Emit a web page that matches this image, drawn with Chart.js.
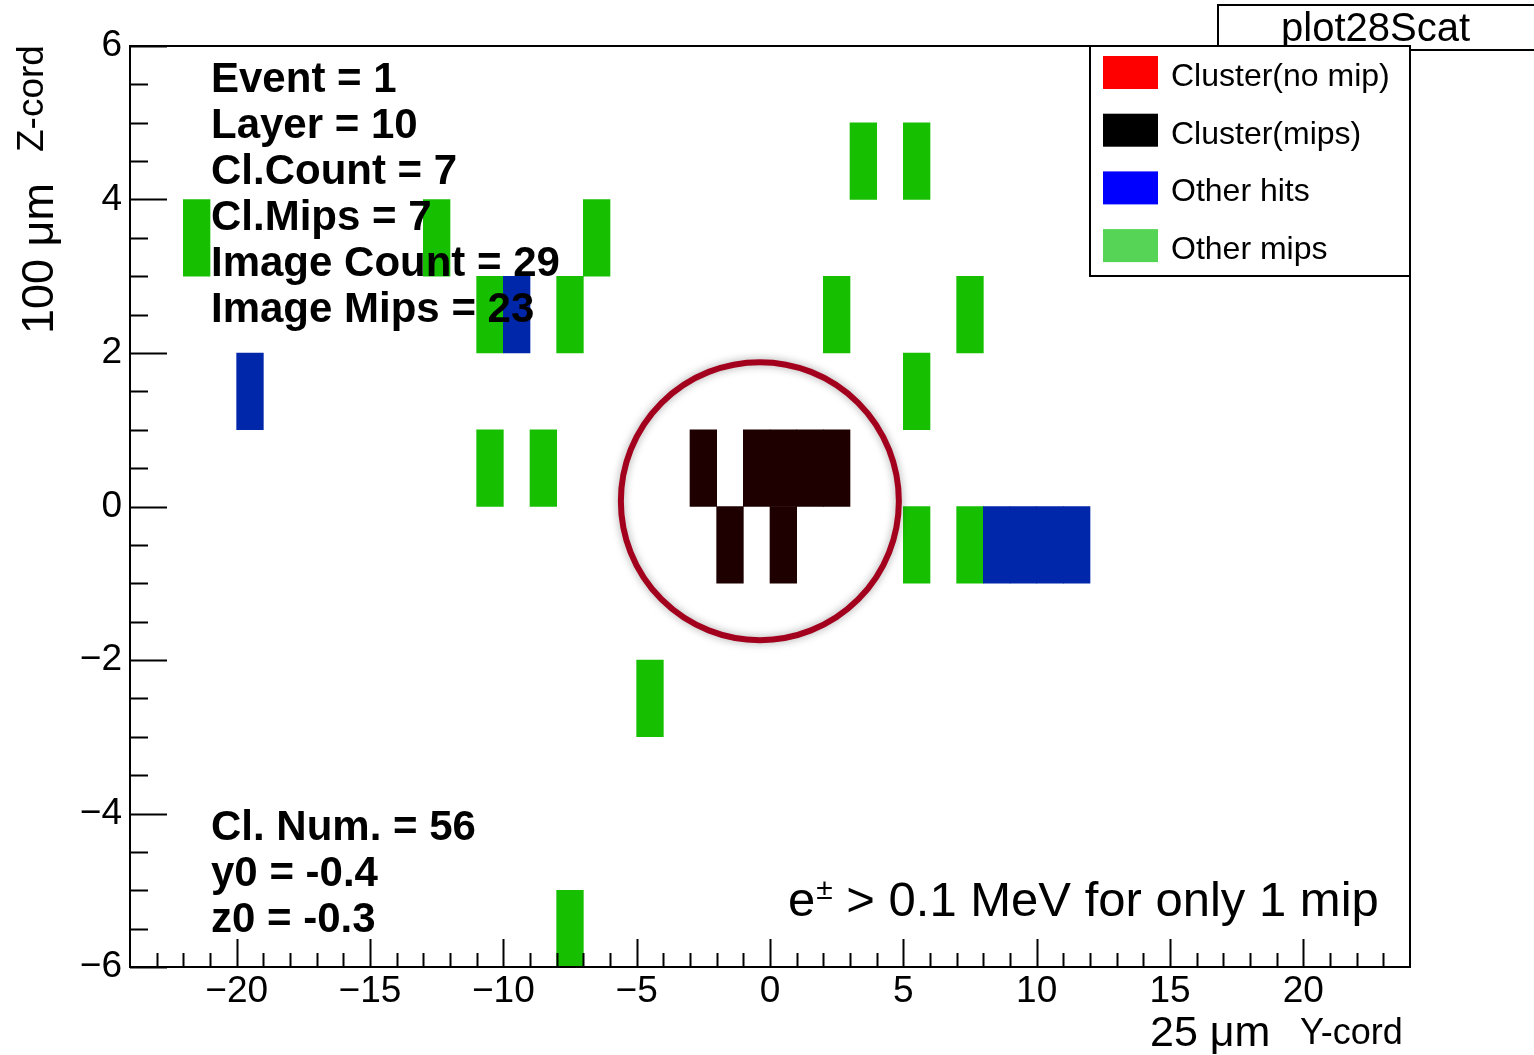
<!DOCTYPE html>
<html>
<head>
<meta charset="utf-8">
<script src="https://cdn.jsdelivr.net/npm/chart.js@4.4.0/dist/chart.umd.min.js"></script>
<style>
  html, body { margin: 0; padding: 0; background: #fff; }
  #wrap { width: 1534px; height: 1055px; }
</style>
</head>
<body>
<div id="wrap"><canvas id="chart" width="1534" height="1055"></canvas></div>
<script>
// lower-left corner of every pixel cell: Y-cord (x axis), Z-cord (y axis)
const mipY = [-22, -13, -7, 3, 5, -11, -8, 2, 7, 5, -11, -9, 5, 7, -5, -8];
const mipZ = [3, 3, 3, 4, 4, 2, 2, 2, 2, 1, 0, 0, -1, -1, -3, -6];
const hitY = [-10, -20, 8, 9, 10, 11];
const hitZ = [2, 1, -1, -1, -1, -1];
const clusterY = [-3, -1, 0, 1, 2, -2, 0];
const clusterZ = [0, 0, 0, 0, 0, -1, -1];
const noMipY = [];
const noMipZ = [];

// circle drawn round the cluster (centre in axis units, radius in px)
const ring = [{x: -0.38, y: 0.07, r: 139}];

const seriesNames = ['Cluster(no mip)', 'Cluster(mips)', 'Other hits', 'Other mips'];
const cellColors = ['#ff0000', '#1e0000', '#0026aa', '#16c000'];
const legendColors = ['#ff0000', '#000000', '#0000ff', '#55d455'];

const xTicks = [-20, -15, -10, -5, 0, 5, 10, 15, 20];
const yTicks = [-6, -4, -2, 0, 2, 4, 6];

const infoTop = ['Event = 1', 'Layer = 10', 'Cl.Count = 7', 'Cl.Mips = 7', 'Image Count = 29', 'Image Mips = 23'];
const infoBottom = ['Cl. Num. = 56', 'y0 = -0.4', 'z0 = -0.3'];
const plotName = 'plot28Scat';

const FONT = "'Liberation Sans', Arial, Helvetica, sans-serif";

const cells = (ys, zs) => ys.map((v, i) => ({x: v + 0.5, y: [zs[i], zs[i] + 1]}));
const fmt = v => (v < 0 ? '\u2212' + (-v) : String(v));

// ROOT-like frame, inward ticks, text boxes and legend
const rootFrame = {
  id: 'rootFrame',
  beforeDatasetDraw(chart, args) {
    if (args.meta.type === 'bubble') {
      chart.ctx.save();
      chart.ctx.shadowColor = 'rgba(0,0,0,0.35)';
      chart.ctx.shadowBlur = 8;
    }
  },
  afterDatasetDraw(chart, args) {
    if (args.meta.type === 'bubble') chart.ctx.restore();
  },
  afterDraw(chart) {
    const {ctx, chartArea: a, scales: {x, y}} = chart;
    ctx.save();
    ctx.strokeStyle = '#000';
    ctx.lineWidth = 2;

    ctx.beginPath();
    for (let v = -23; v <= 23; v++) {
      const px = Math.round(x.getPixelForValue(v)) + 0.5;
      const len = v % 5 === 0 ? 28 : 14;
      ctx.moveTo(px, a.bottom);
      ctx.lineTo(px, a.bottom - len);
    }
    for (let v = -6; v <= 6; v += 0.5) {
      const py = Math.round(y.getPixelForValue(v)) + 0.5;
      const len = v % 2 === 0 ? 37 : 18;
      ctx.moveTo(a.left, py);
      ctx.lineTo(a.left + len, py);
    }
    ctx.stroke();
    ctx.strokeRect(a.left, a.top, a.right - a.left, a.bottom - a.top);

    // info text
    ctx.fillStyle = '#000';
    ctx.textAlign = 'left';
    ctx.textBaseline = 'alphabetic';
    ctx.font = 'bold 42px ' + FONT;
    infoTop.forEach((t, i) => ctx.fillText(t, a.left + 81, 92 + i * 46));
    infoBottom.forEach((t, i) => ctx.fillText(t, a.left + 81, 840 + i * 46));

    // e± note
    let tx = 788;
    const base = 916;
    ctx.font = '49px ' + FONT;
    ctx.fillText('e', tx, base);
    tx += ctx.measureText('e').width;
    ctx.font = '30px ' + FONT;
    ctx.fillText('\u00b1', tx + 1, base - 17);
    tx += ctx.measureText('\u00b1').width + 1;
    ctx.font = '49px ' + FONT;
    ctx.fillText(' > 0.1 MeV for only 1 mip', tx, base);

    // axis titles
    ctx.font = '43px ' + FONT;
    ctx.fillText('25 \u03bcm', 1150, 1046);
    ctx.font = '36px ' + FONT;
    ctx.fillText('Y-cord', 1300, 1044);

    ctx.save();
    ctx.translate(53, 334);
    ctx.rotate(-Math.PI / 2);
    ctx.font = '45px ' + FONT;
    ctx.fillText('100 \u03bcm', 0, 0);
    ctx.restore();
    ctx.save();
    ctx.translate(43, 152);
    ctx.rotate(-Math.PI / 2);
    ctx.font = '37px ' + FONT;
    ctx.fillText('Z-cord', 0, 0);
    ctx.restore();

    // title box
    ctx.fillStyle = '#fff';
    ctx.fillRect(1218, 5, 330, 45);
    ctx.strokeRect(1218, 5, 330, 45);
    ctx.fillStyle = '#000';
    ctx.font = '40px ' + FONT;
    ctx.fillText(plotName, 1281, 41);

    // legend box
    ctx.fillStyle = '#fff';
    ctx.fillRect(1090, 46, 320, 230);
    ctx.strokeRect(1090, 46, 320, 230);
    ctx.font = '32px ' + FONT;
    seriesNames.forEach((name, i) => {
      const top = 56 + i * 57.7;
      ctx.fillStyle = legendColors[i];
      ctx.fillRect(1103, top, 55, 33);
      ctx.fillStyle = '#000';
      ctx.fillText(name, 1171, top + 30);
    });
    ctx.restore();
  }
};

new Chart(document.getElementById('chart'), {
  type: 'bar',
  data: {
    datasets: [
      {type: 'bubble', data: ring, backgroundColor: 'rgba(0,0,0,0)', borderColor: '#a3001e', borderWidth: 6, order: -1},
      {label: seriesNames[0], data: cells(noMipY, noMipZ), backgroundColor: cellColors[0]},
      {label: seriesNames[1], data: cells(clusterY, clusterZ), backgroundColor: cellColors[1]},
      {label: seriesNames[2], data: cells(hitY, hitZ), backgroundColor: cellColors[2]},
      {label: seriesNames[3], data: cells(mipY, mipZ), backgroundColor: cellColors[3]}
    ]
  },
  options: {
    responsive: false,
    animation: false,
    events: [],
    layout: {autoPadding: false, padding: {top: 46, right: 124, left: 0, bottom: 0}},
    datasets: {bar: {grouped: false, barPercentage: 1, categoryPercentage: 1, borderWidth: 0}},
    plugins: {legend: {display: false}, tooltip: {enabled: false}},
    scales: {
      x: {
        type: 'linear', min: -24, max: 24, offset: false,
        grid: {display: false, drawTicks: false}, border: {display: false},
        afterBuildTicks: s => { s.ticks = xTicks.map(v => ({value: v})); },
        afterFit: s => { s.height = 88; },
        ticks: {color: '#000', font: {family: FONT, size: 37}, padding: 3, maxRotation: 0, autoSkip: false, callback: fmt}
      },
      y: {
        type: 'linear', min: -6, max: 6,
        grid: {display: false, drawTicks: false}, border: {display: false},
        afterBuildTicks: s => { s.ticks = yTicks.map(v => ({value: v})); },
        afterFit: s => { s.width = 130; },
        ticks: {color: '#000', font: {family: FONT, size: 37}, padding: 8, autoSkip: false, callback: fmt}
      }
    }
  },
  plugins: [rootFrame]
});
</script>
</body>
</html>
